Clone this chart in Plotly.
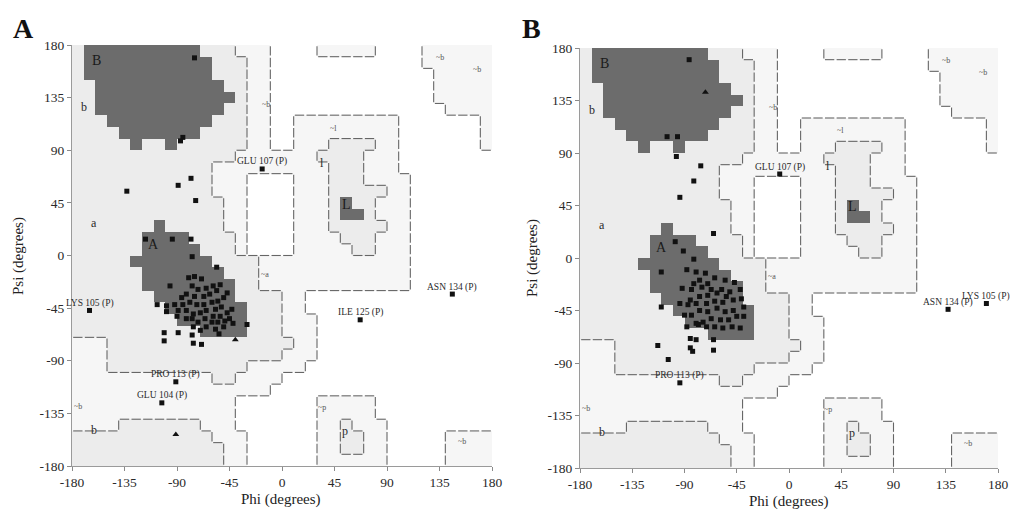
import numpy as np
import plotly.graph_objects as go

# ---------------- Ramachandran region map (10-degree cells) ----------------
# rectangles: (psi_lo, psi_hi, phi_lo, phi_hi)
GENEROUS = [
    (170, 180, -40, -10), (90, 170, -30, -10), (70, 90, -60, 10),
    (0, 70, -60, -30), (-30, 0, -40, 110), (-50, -30, -40, 20),
    (-90, -50, -40, 30), (-100, -90, -180, 20), (-110, -100, -180, 0),
    (-120, -110, -180, -10), (-150, -120, -180, -40), (-180, -150, -180, -30),
    (-100, -60, -180, -150),
    (0, 70, 10, 110), (70, 120, 10, 100),
    (-180, -140, 30, 90), (-140, -120, 30, 80), (170, 180, 30, 80),
    (130, 180, 130, 180), (160, 180, 120, 130), (120, 130, 140, 180), (90, 120, 170, 180),
    (-180, -150, 140, 180),
]
ALLOWED = [
    (170, 180, -180, -40), (90, 170, -180, -30), (80, 90, -180, -40),
    (50, 80, -180, -60), (20, 50, -180, -50), (0, 20, -180, -40),
    (-30, 0, -180, -20), (-70, -30, -180, 0), (-80, -70, -150, 10),
    (-90, -80, -150, 0), (-100, -90, -150, -30), (-110, -100, -60, -40),
    (-150, -140, -140, -70), (-160, -150, -180, -60), (-180, -160, -180, -50),
    (90, 100, 40, 80), (80, 90, 30, 70), (60, 80, 40, 70), (50, 60, 40, 90),
    (30, 50, 40, 80), (20, 30, 40, 90), (10, 20, 50, 80), (0, 10, 60, 80),
    (-170, -150, 50, 70), (-150, -140, 50, 60),
]
# core columns: (phi_lo, psi_lo, psi_hi)
CORE = [
    (-170, 150, 180), (-160, 120, 180), (-150, 110, 180), (-140, 100, 180),
    (-130, 90, 180), (-120, 100, 180), (-110, 100, 180), (-100, 90, 180),
    (-90, 100, 180), (-80, 100, 180), (-70, 110, 170), (-60, 120, 150),
    (-50, 130, 140),
    (-130, -10, 0), (-120, -30, 20), (-110, -40, 30), (-100, -50, 20),
    (-90, -60, 20), (-80, -60, 10), (-70, -70, 0), (-60, -70, -10),
    (-50, -70, -20), (-40, -70, -40),
    (50, 30, 50), (60, 30, 40),
]

REGION_TEXT = ["B", "b", "A", "a", "L", "l", "~l", "~b", "~a", "~b", "b", "~p", "p", "~b", "~b", "~b"]
REGION_PHI = [-159, -170, -110, -161, 55, 34, 44, -14, -15, -175, -161, 34, 54, 135, 167, 154]
REGION_PSI = [167, 127, 9, 28, 44, 79, 109, 129, -16, -129, -149, -130, -150, 169, 159, -159]

# ---------------- residues ----------------
A_PHI = [-75, -87, -85, -133, -89, -78, -74, -117, -94, -78, -77, -56, -96, -107, -99, -99, -89,
         -101, -101, -89, -77, -76, -69, -54, -30, -42,
         -80, -75, -69, -77, -72, -65, -59, -53, -56, -62, -67, -75, -82, -86, -79, -73, -67, -60,
         -55, -50, -47, -52, -57, -65, -70, -76, -82, -59, -53, -47, -43, -66, -60, -55, -49, -72,
         -77, -45, -65, -57, -50, -82, -90, -85, -92, -70, -76]
A_PSI = [169, 98, 101, 55, 60, 66, 47, 14, 14, 14, -1, -10, -26, -42, -43, -48, -47,
         -66, -73, -66, -68, -75, -76, -67, -59, -58,
         -19, -18, -20, -26, -29, -28, -26, -25, -30, -33, -35, -35, -33, -36, -40, -42, -42, -40,
         -39, -36, -32, -44, -46, -47, -49, -50, -47, -52, -52, -49, -46, -54, -57, -57, -56, -57,
         -54, -54, -61, -63, -61, -54, -52, -42, -42, -64, -61]
A_GLY_PHI = [-91, -40]
A_GLY_PSI = [-153, -72]
A_LAB = ["GLU 107 (P)", "LYS 105 (P)", "ILE 125 (P)", "ASN 134 (P)", "PRO 113 (P)", "GLU 104 (P)"]
A_LAB_PHI = [-17, -165, 67, 146, -91, -103]
A_LAB_PSI = [74, -47, -55, -33, -108, -126]

B_PHI = [-86, -105, -96, -97, -76, -82, -94, -65, -98, -91, -82, -110, -110, -85, -80, -113, -85,
         -83, -65, -65, -104, -39,
         -88, -80, -72, -64, -55, -47, -82, -77, -70, -92, -84, -75, -67, -58, -51, -42, -70, -62,
         -54, -77, -85, -94, -87, -80, -71, -64, -57, -48, -41, -39, -48, -55, -62, -70, -77, -84,
         -90, -80, -74, -67, -59, -52, -45, -64, -57, -49, -42, -71, -78, -88]
B_PSI = [170, 104, 104, 87, 79, 66, 52, 21, 14, 6, -1, -12, -42, -69, -70, -75, -77,
         -80, -70, -79, -87, -50,
         -10, -12, -13, -17, -19, -21, -22, -19, -22, -26, -27, -25, -27, -27, -29, -27, -32, -30,
         -33, -33, -36, -39, -40, -39, -39, -37, -38, -36, -35, -42, -45, -46, -43, -46, -45, -49,
         -49, -56, -55, -52, -53, -53, -50, -59, -60, -59, -60, -59, -57, -59]
B_GLY_PHI = [-72]
B_GLY_PSI = [142]
B_LAB = ["GLU 107 (P)", "PRO 113 (P)", "ASN 134 (P)", "LYS 105 (P)"]
B_LAB_PHI = [-8, -94, 137, 170]
B_LAB_PSI = [72, -107, -44, -39]

TICKS = [-180, -135, -90, -45, 0, 45, 90, 135, 180]
TICK_TEXT = ["-180", "-135", "-90", "-45", "0", "45", "90", "135", "180"]

# ---------------- build grid ----------------
grid = np.zeros((36, 36), dtype=int)
def cell(v):
    return int((v + 180) // 10)
for lvl, rects in ((1, GENEROUS), (2, ALLOWED)):
    for p0, p1, f0, f1 in rects:
        grid[cell(p0):cell(p1), cell(f0):cell(f1)] = lvl
for f0, p0, p1 in CORE:
    grid[cell(p0):cell(p1), cell(f0)] = 3

centers = np.arange(-175, 180, 10)
seg_x, seg_y = [], []
for r in range(36):
    for c in range(36):
        a = grid[r, c]
        if c < 35:
            b = grid[r, c + 1]
            if a != b and a != 3 and b != 3:
                xv = -180 + 10 * (c + 1)
                seg_x += [xv, xv, None]
                seg_y += [-180 + 10 * r + 1, -170 + 10 * r - 1, None]
        if r < 35:
            b = grid[r + 1, c]
            if a != b and a != 3 and b != 3:
                yv = -180 + 10 * (r + 1)
                seg_x += [-180 + 10 * c + 1, -170 + 10 * c - 1, None]
                seg_y += [yv, yv, None]

WHITE, GEN, ALW, COR = "#ffffff", "#f6f6f6", "#ececec", "#6c6c6c"
cscale = [[0, WHITE], [0.25, WHITE], [0.25, GEN], [0.5, GEN], [0.5, ALW], [0.75, ALW],
          [0.75, COR], [1, COR]]
SERIF = "Liberation Serif, Times New Roman, serif"

fig = go.Figure()
panels = [("x", "y", A_PHI, A_PSI, A_GLY_PHI, A_GLY_PSI, A_LAB, A_LAB_PHI, A_LAB_PSI),
          ("x2", "y2", B_PHI, B_PSI, B_GLY_PHI, B_GLY_PSI, B_LAB, B_LAB_PHI, B_LAB_PSI)]
annotations = []
for xa, ya, ph, ps, gph, gps, lab, lph, lps in panels:
    fig.add_trace(go.Heatmap(z=grid, x=centers, y=centers, colorscale=cscale, zmin=-0.5, zmax=3.5,
                             showscale=False, hoverinfo="skip", xaxis=xa, yaxis=ya))
    fig.add_trace(go.Scatter(x=seg_x, y=seg_y, mode="lines", line=dict(color="#666666", width=1.1),
                             hoverinfo="skip", showlegend=False, xaxis=xa, yaxis=ya))
    fig.add_trace(go.Scatter(x=ph + lph, y=ps + lps, mode="markers",
                             marker=dict(symbol="square", size=5, color="#111111"),
                             showlegend=False, xaxis=xa, yaxis=ya))
    fig.add_trace(go.Scatter(x=gph, y=gps, mode="markers",
                             marker=dict(symbol="triangle-up", size=6, color="#111111"),
                             showlegend=False, xaxis=xa, yaxis=ya))
    for t, fx, fy in zip(lab, lph, lps):
        annotations.append(dict(text=t, x=fx, y=fy, xref=xa, yref=ya, showarrow=False, yshift=7,
                                font=dict(family=SERIF, size=9.5, color="#2a2a2a")))
    for t, fx, fy in zip(REGION_TEXT, REGION_PHI, REGION_PSI):
        if t.isupper():
            f = dict(family=SERIF, size=14, color="#1a1a1a")
        elif t.startswith("~"):
            f = dict(family=SERIF, size=8, color="#555555")
        else:
            f = dict(family=SERIF, size=12, color="#2a2a2a")
        annotations.append(dict(text=t, x=fx, y=fy, xref=xa, yref=ya, showarrow=False, font=f))

W, H = 1011, 510
def px(x):
    return x / W
def py(y):
    return 1 - y / H

for txt, x, y in (("A", 23, 28), ("B", 531, 28)):
    annotations.append(dict(text=f"<b>{txt}</b>", x=px(x), y=py(y), xref="paper", yref="paper",
                            xanchor="center", yanchor="middle", showarrow=False,
                            font=dict(family=SERIF, size=28, color="#111111")))
for x, y in ((281, 499), (789, 501)):
    annotations.append(dict(text="Phi (degrees)", x=px(x), y=py(y), xref="paper", yref="paper",
                            xanchor="center", yanchor="middle", showarrow=False,
                            font=dict(family=SERIF, size=15, color="#222222")))
for x, y in ((18, 256), (532, 258)):
    annotations.append(dict(text="Psi (degrees)", x=px(x), y=py(y), xref="paper", yref="paper",
                            xanchor="center", yanchor="middle", showarrow=False, textangle=-90,
                            font=dict(family=SERIF, size=15, color="#222222")))

axis_common = dict(range=[-180, 180], tickvals=TICKS, ticktext=TICK_TEXT, showgrid=False,
                   zeroline=False, showline=True, linecolor="#9a9a9a", linewidth=1,
                   ticks="outside", ticklen=4, tickcolor="#8a8a8a", automargin=False,
                   tickfont=dict(family=SERIF, size=13.5, color="#2a2a2a"), fixedrange=True)
fig.update_layout(
    width=W, height=H, margin=dict(l=0, r=0, t=0, b=0, pad=0, autoexpand=False),
    paper_bgcolor="white", plot_bgcolor="white", showlegend=False,
    xaxis=dict(domain=[px(72), px(492)], anchor="y", **axis_common),
    yaxis=dict(domain=[py(466), py(45)], anchor="x", **axis_common),
    xaxis2=dict(domain=[px(580), px(998)], anchor="y2", **axis_common),
    yaxis2=dict(domain=[py(468), py(48)], anchor="x2", **axis_common),
    annotations=annotations,
)
fig.write_html("out.html", config={"displayModeBar": False},
               post_script="document.body.style.margin='0';document.body.style.overflow='hidden';")
